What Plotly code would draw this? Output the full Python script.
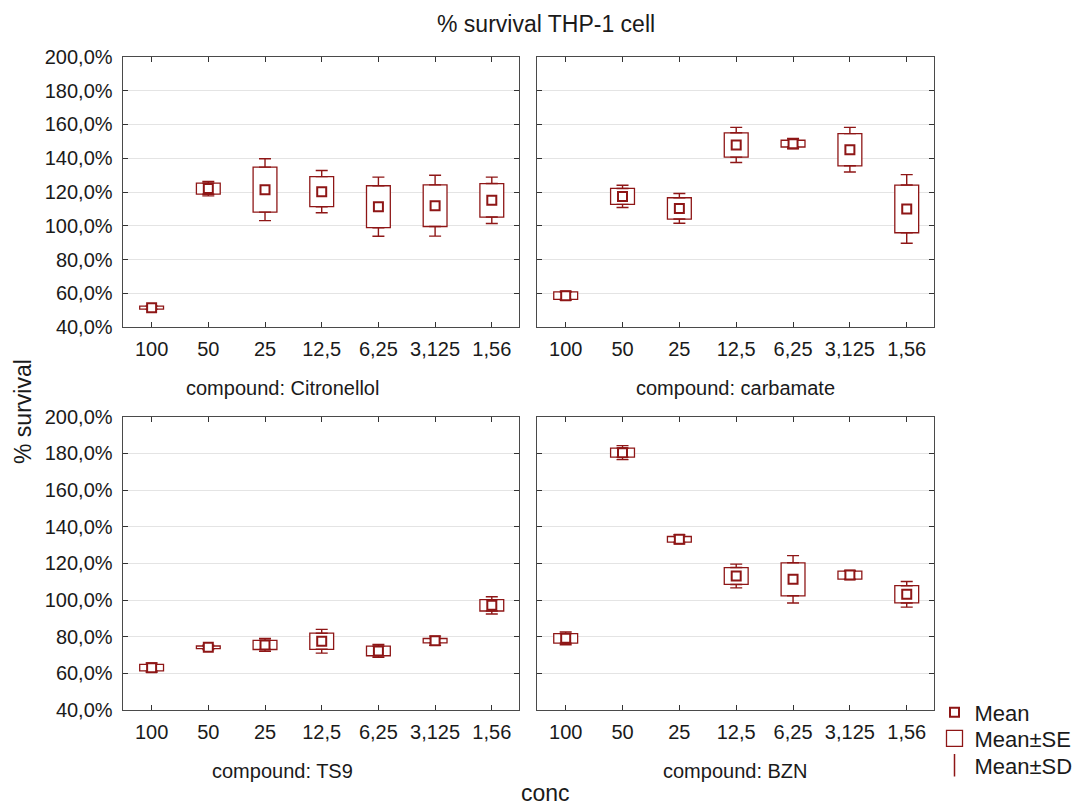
import numpy as np
import plotly.graph_objects as go

# ---------------- data ----------------
conc_labels = ["100", "50", "25", "12,5", "6,25", "3,125", "1,56"]
compounds = ["Citronellol", "carbamate", "TS9", "BZN"]

mean_citronellol = [51.6, 122.0, 121.4, 120.2, 111.3, 111.9, 115.1]
se_citronellol = [0.9, 3.3, 13.3, 8.9, 12.4, 12.3, 9.9]
sd_citronellol = [1.0, 4.3, 18.3, 12.5, 17.5, 18.0, 13.7]

mean_carbamate = [58.7, 117.4, 110.3, 147.8, 148.6, 145.0, 110.0]
se_carbamate = [2.2, 4.7, 6.3, 7.2, 2.0, 9.5, 14.1]
sd_carbamate = [2.7, 6.6, 8.8, 10.4, 3.0, 13.2, 20.3]

mean_ts9 = [63.1, 74.2, 75.5, 77.5, 72.2, 77.8, 97.1]
se_ts9 = [1.8, 0.7, 2.5, 4.4, 2.6, 1.2, 3.1]
sd_ts9 = [2.6, 1.2, 3.5, 6.5, 3.5, 2.5, 4.7]

mean_bzn = [79.1, 180.4, 133.1, 113.1, 111.3, 113.6, 103.1]
se_bzn = [2.6, 2.5, 1.55, 4.6, 9.0, 2.2, 4.7]
sd_bzn = [3.5, 3.8, 2.5, 6.5, 12.9, 2.5, 7.0]

y_tick_values = [40, 60, 80, 100, 120, 140, 160, 180, 200]
y_tick_labels = ["40,0%", "60,0%", "80,0%", "100,0%", "120,0%", "140,0%", "160,0%", "180,0%", "200,0%"]

legend_names = ["Mean", "Mean±SE", "Mean±SD"]
title_text = "% survival THP-1 cell"
y_title = "% survival"
x_title = "conc"

# ---------------- style / layout helpers ----------------
RED = "#8e1616"
FONT = "Arial, 'Liberation Sans', sans-serif"
TXT = "#1a1a1a"
W, H, OFF = 1077, 808, 0


def fx(px):
    return (px - OFF) / W


def fy(py):
    return 1 - (py - OFF) / H


x_domains = [[fx(122.7), fx(519.3)], [fx(536.7), fx(934.3)]]
y_domains = [[fy(327.3), fy(56.7)], [fy(710.0), fy(416.7)]]

panel_data = [
    (mean_citronellol, se_citronellol, sd_citronellol),
    (mean_carbamate, se_carbamate, sd_carbamate),
    (mean_ts9, se_ts9, sd_ts9),
    (mean_bzn, se_bzn, sd_bzn),
]

fig = go.Figure()
xs = np.arange(len(conc_labels))

for k, (m, se, sd) in enumerate(panel_data):
    m = np.array(m, dtype=float)
    se = np.array(se, dtype=float)
    sd = np.array(sd, dtype=float)
    xa = "x" if k == 0 else f"x{k+1}"
    ya = "y" if k == 0 else f"y{k+1}"
    # Mean ± SE boxes
    fig.add_trace(go.Bar(
        x=xs, y=2 * se, base=m - se, width=0.42,
        marker=dict(color="white", line=dict(color=RED, width=1.3)),
        showlegend=False, xaxis=xa, yaxis=ya, hoverinfo="skip",
    ))
    # Mean ± SD whiskers (upper and lower, outside the SE box)
    fig.add_trace(go.Scatter(
        x=xs, y=m + se, mode="markers",
        marker=dict(size=1, color="rgba(0,0,0,0)"),
        error_y=dict(type="data", symmetric=False, array=sd - se, arrayminus=np.zeros_like(sd),
                     color=RED, thickness=1.4, width=6),
        showlegend=False, xaxis=xa, yaxis=ya, hoverinfo="skip",
    ))
    fig.add_trace(go.Scatter(
        x=xs, y=m - se, mode="markers",
        marker=dict(size=1, color="rgba(0,0,0,0)"),
        error_y=dict(type="data", symmetric=False, array=np.zeros_like(sd), arrayminus=sd - se,
                     color=RED, thickness=1.4, width=6),
        showlegend=False, xaxis=xa, yaxis=ya, hoverinfo="skip",
    ))
    # Mean markers
    fig.add_trace(go.Scatter(
        x=xs, y=m, mode="markers",
        marker=dict(symbol="square", size=9, color="white", line=dict(color=RED, width=2)),
        showlegend=False, xaxis=xa, yaxis=ya,
    ))

# legend entries (one legend box per entry, so each can be positioned)
legend_markers = [
    dict(symbol="square", size=9, color="white", line=dict(color=RED, width=2)),
    dict(symbol="square-open", size=16, color=RED, line=dict(color=RED, width=1.3)),
    dict(symbol="line-ns-open", size=16, color=RED, line=dict(color=RED, width=1.5)),
]
legend_ids = ["legend", "legend2", "legend3"]
for name, mk, lid in zip(legend_names, legend_markers, legend_ids):
    fig.add_trace(go.Scatter(
        x=[None], y=[None], mode="markers", marker=mk, name=name,
        showlegend=True, legend=lid, hoverinfo="skip",
    ))

axis_common = dict(
    showline=True, linecolor="#4a4a4a", linewidth=1.2, mirror="ticks",
    ticks="inside", ticklen=5, tickcolor="#333", tickwidth=1,
    tickfont=dict(family=FONT, size=20, color=TXT), zeroline=False,
)

legend_y = [712.5, 738.5, 765.5]
layout = dict(
    width=W, height=H,
    margin=dict(l=0, r=0, t=0, b=0, pad=0, autoexpand=False),
    paper_bgcolor="white", plot_bgcolor="white",
    barmode="overlay",
    font=dict(family=FONT, color=TXT),
    showlegend=True,
)
for lid, ly in zip(legend_ids, legend_y):
    layout[lid] = dict(
        x=fx(934.5), y=fy(ly), xanchor="left", yanchor="middle",
        font=dict(family=FONT, size=22, color=TXT),
        bgcolor="rgba(0,0,0,0)", itemwidth=30,
    )

for k in range(4):
    r, c = divmod(k, 2)
    xn = "xaxis" if k == 0 else f"xaxis{k+1}"
    yn = "yaxis" if k == 0 else f"yaxis{k+1}"
    ya = "y" if k == 0 else f"y{k+1}"
    xa = "x" if k == 0 else f"x{k+1}"
    layout[xn] = dict(
        domain=x_domains[c], anchor=ya, range=[-0.51, 6.485],
        tickvals=list(xs), ticktext=conc_labels, ticklabelstandoff=4, showgrid=False,
        **axis_common,
    )
    layout[yn] = dict(
        domain=y_domains[r], anchor=xa, range=[40, 200],
        tickvals=y_tick_values, ticktext=y_tick_labels, ticklabelstandoff=5,
        showticklabels=(c == 0), showgrid=True, gridcolor="#e4e4e4", gridwidth=1,
        **axis_common,
    )

fig.update_layout(**layout)

# panel captions
caption_x = [282, 735.5]
caption_y = [387.5, 771.0]
for k, name in enumerate(compounds):
    r, c = divmod(k, 2)
    fig.add_annotation(
        text=f"compound: {name}", xref="paper", yref="paper",
        x=fx(caption_x[c]), y=fy(caption_y[r]), xanchor="center", yanchor="middle",
        showarrow=False, font=dict(family=FONT, size=20, color=TXT),
    )

fig.add_annotation(text=title_text, xref="paper", yref="paper", x=fx(545.8), y=fy(24.3),
                   xanchor="center", yanchor="middle", showarrow=False,
                   font=dict(family=FONT, size=23, color=TXT))
fig.add_annotation(text=y_title, xref="paper", yref="paper", x=fx(23.5), y=fy(411.5),
                   xanchor="center", yanchor="middle", textangle=-90, showarrow=False,
                   font=dict(family=FONT, size=23, color=TXT))
fig.add_annotation(text=x_title, xref="paper", yref="paper", x=fx(545.8), y=fy(792.5),
                   xanchor="center", yanchor="middle", showarrow=False,
                   font=dict(family=FONT, size=23, color=TXT))

fig.write_html(
    "out.html",
    config={"displayModeBar": False},
    post_script="document.body.style.margin='0';document.body.style.overflow='hidden';"
                "document.documentElement.style.overflow='hidden';",
)
